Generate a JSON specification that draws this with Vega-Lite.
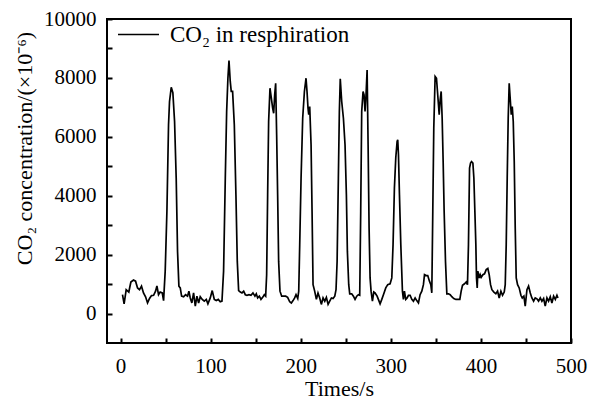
{
  "$schema": "https://vega.github.io/schema/vega-lite/v6.json",
  "width": 464,
  "height": 324,
  "autosize": {"type": "none"},
  "padding": {"left": 107, "top": 19, "right": 22, "bottom": 64},
  "background": "white",
  "config": {
    "font": "Liberation Serif, Times New Roman, serif",
    "view": {"stroke": "black", "strokeWidth": 2},
    "text": {"font": "Liberation Serif, Times New Roman, serif"},
    "axis": {"grid": false, "domain": false, "labelColor": "black", "titleColor": "black", "tickColor": "black", "tickWidth": 2, "labelFont": "Liberation Serif, Times New Roman, serif", "titleFont": "Liberation Serif, Times New Roman, serif", "titleFontWeight": "normal"},
    "legend": {"labelFont": "Liberation Serif, Times New Roman, serif"}
  },
  "data": {"values": [
    {"t":2.2,"v":640},{"t":4,"v":330},{"t":6.3,"v":810},{"t":9.2,"v":730},{"t":11.5,"v":1070},{"t":14.4,"v":1140},{"t":16.7,"v":1100},{"t":18.9,"v":870},{"t":21.1,"v":810},{"t":23.3,"v":930},{"t":25.5,"v":700},{"t":27.8,"v":570},{"t":30,"v":360},{"t":32.2,"v":510},{"t":34.4,"v":610},{"t":36.7,"v":620},{"t":38.9,"v":760},{"t":40.4,"v":940},{"t":42.2,"v":640},{"t":44,"v":730},{"t":46.3,"v":700},{"t":47.8,"v":440},{"t":49.6,"v":1440},{"t":51.5,"v":3470},{"t":53.3,"v":6410},{"t":54.4,"v":7200},{"t":56.3,"v":7680},{"t":58.1,"v":7500},{"t":60,"v":6520},{"t":61.8,"v":4600},{"t":63.3,"v":2110},{"t":64.8,"v":930},{"t":66.3,"v":870},{"t":67.8,"v":590},{"t":70,"v":570},{"t":72.2,"v":640},{"t":74.4,"v":590},{"t":75.9,"v":760},{"t":77.4,"v":530},{"t":79.2,"v":360},{"t":81.1,"v":700},{"t":83,"v":250},{"t":84.8,"v":590},{"t":86.7,"v":360},{"t":88.5,"v":570},{"t":90.7,"v":480},{"t":93,"v":420},{"t":95.2,"v":480},{"t":97,"v":330},{"t":99.6,"v":530},{"t":101.8,"v":780},{"t":104.1,"v":480},{"t":106.3,"v":440},{"t":108.5,"v":480},{"t":110.7,"v":400},{"t":112.6,"v":420},{"t":114.4,"v":1440},{"t":116.3,"v":4600},{"t":117.8,"v":6860},{"t":119.2,"v":7990},{"t":120.4,"v":8590},{"t":121.8,"v":7880},{"t":122.9,"v":7540},{"t":124.4,"v":7540},{"t":126.3,"v":6410},{"t":128.1,"v":4030},{"t":129.6,"v":1770},{"t":131.1,"v":780},{"t":133,"v":730},{"t":134.8,"v":700},{"t":136.7,"v":760},{"t":138.5,"v":640},{"t":140.4,"v":620},{"t":142.6,"v":640},{"t":144.8,"v":620},{"t":147,"v":700},{"t":149.2,"v":590},{"t":150.7,"v":670},{"t":152.2,"v":530},{"t":154.1,"v":590},{"t":155.9,"v":480},{"t":157.8,"v":550},{"t":159.6,"v":640},{"t":161.1,"v":590},{"t":162.2,"v":1320},{"t":163.3,"v":4030},{"t":164.4,"v":6520},{"t":165.9,"v":7650},{"t":167.4,"v":7310},{"t":168.9,"v":6970},{"t":170,"v":6800},{"t":171.1,"v":7420},{"t":172.2,"v":7820},{"t":173.3,"v":6070},{"t":174.4,"v":4030},{"t":175.5,"v":1770},{"t":177,"v":760},{"t":178.9,"v":590},{"t":181.1,"v":590},{"t":183.3,"v":590},{"t":185.5,"v":550},{"t":187.8,"v":400},{"t":189.6,"v":360},{"t":191.5,"v":440},{"t":193.3,"v":530},{"t":194.8,"v":640},{"t":196.7,"v":510},{"t":197.8,"v":760},{"t":198.9,"v":2340},{"t":200.4,"v":4600},{"t":202.2,"v":6630},{"t":204.1,"v":7540},{"t":205.9,"v":7990},{"t":207,"v":7540},{"t":208.1,"v":6970},{"t":208.9,"v":6750},{"t":210,"v":7030},{"t":211.5,"v":5730},{"t":212.6,"v":3470},{"t":213.7,"v":980},{"t":215.5,"v":760},{"t":217.4,"v":480},{"t":219.2,"v":700},{"t":221.1,"v":530},{"t":222.9,"v":310},{"t":224.8,"v":530},{"t":226.7,"v":420},{"t":228.5,"v":550},{"t":230.4,"v":310},{"t":232.2,"v":420},{"t":234.1,"v":530},{"t":235.9,"v":510},{"t":237.8,"v":590},{"t":239.2,"v":810},{"t":240.4,"v":1770},{"t":241.8,"v":4600},{"t":242.9,"v":6860},{"t":243.9,"v":7970},
    {"t":245.5,"v":7200},{"t":247.4,"v":6630},{"t":249.2,"v":5730},{"t":250.7,"v":4030},{"t":251.8,"v":2110},{"t":253.3,"v":980},{"t":254.4,"v":670},{"t":256.6,"v":670},{"t":258.5,"v":590},{"t":260.3,"v":480},{"t":262.2,"v":590},{"t":264,"v":640},{"t":265.5,"v":620},{"t":266.6,"v":3470},{"t":267.7,"v":6860},{"t":269.2,"v":7540},{"t":270.3,"v":7420},{"t":271.4,"v":6860},{"t":272.5,"v":7420},{"t":273.7,"v":8270},{"t":274.8,"v":5730},{"t":275.9,"v":2900},{"t":277,"v":1210},{"t":278.1,"v":760},{"t":279.6,"v":420},{"t":281.1,"v":730},{"t":282.5,"v":700},{"t":284.8,"v":590},{"t":286.2,"v":480},{"t":288.1,"v":330},{"t":290,"v":480},{"t":292.2,"v":670},{"t":294.4,"v":870},{"t":296.6,"v":980},{"t":299.2,"v":1010},{"t":301.1,"v":1210},{"t":302.5,"v":2340},{"t":304,"v":4260},{"t":305.5,"v":5280},{"t":307,"v":5840},{"t":307.7,"v":5900},{"t":308.5,"v":5390},{"t":309.6,"v":4030},{"t":311.1,"v":2340},{"t":312.9,"v":760},{"t":314,"v":480},{"t":315.1,"v":760},{"t":316.6,"v":480},{"t":318.1,"v":530},{"t":319.6,"v":620},{"t":321.4,"v":620},{"t":323.3,"v":480},{"t":325.1,"v":420},{"t":327,"v":530},{"t":328.8,"v":440},{"t":330.7,"v":360},{"t":332.5,"v":640},{"t":334.4,"v":760},{"t":336.2,"v":980},{"t":337.4,"v":1320},{"t":339.2,"v":1290},{"t":341,"v":1290},{"t":342.9,"v":1100},{"t":344.4,"v":980},{"t":345.5,"v":700},{"t":346.6,"v":3470},{"t":347.7,"v":6290},{"t":349.2,"v":8050},{"t":350.7,"v":7990},{"t":351.8,"v":7540},{"t":352.9,"v":7090},{"t":353.7,"v":6750},{"t":354.8,"v":7260},{"t":355.9,"v":7540},{"t":357,"v":6630},{"t":358.1,"v":5160},{"t":359.2,"v":3470},{"t":360.7,"v":1770},{"t":362.2,"v":670},{"t":364,"v":670},{"t":365.9,"v":640},{"t":367.7,"v":570},{"t":369.9,"v":510},{"t":372.2,"v":480},{"t":374.4,"v":480},{"t":376.6,"v":480},{"t":378.1,"v":760},{"t":379.6,"v":960},{"t":381.8,"v":1010},{"t":383.7,"v":1070},{"t":385.1,"v":980},{"t":386.2,"v":2340},{"t":387.4,"v":4940},{"t":388.5,"v":5110},{"t":389.6,"v":5160},{"t":391.1,"v":5110},{"t":392.2,"v":4600},{"t":393.3,"v":3470},{"t":394.4,"v":2340},{"t":395.1,"v":1210},{"t":395.9,"v":870},{"t":396.6,"v":1440},{"t":398.1,"v":1210},{"t":399.2,"v":1320},{"t":400.3,"v":1230},{"t":402.2,"v":1320},{"t":404,"v":1350},{"t":405.9,"v":1490},{"t":407.7,"v":1530},{"t":409.2,"v":1320},{"t":410.7,"v":980},{"t":412.2,"v":810},{"t":414.4,"v":730},{"t":416.6,"v":670},{"t":418.5,"v":760},{"t":420.3,"v":530},{"t":422.2,"v":760},{"t":424,"v":620},{"t":425.9,"v":730},{"t":427,"v":980},{"t":428.1,"v":2340},{"t":429.2,"v":4600},{"t":430.3,"v":6630},{"t":431.4,"v":7820},{"t":432.5,"v":7310},{"t":433.7,"v":6750},{"t":434.8,"v":7030},{"t":435.9,"v":6520},{"t":437,"v":5160},{"t":438.1,"v":2900},{"t":439.2,"v":1210},{"t":440.7,"v":980},{"t":442.5,"v":870},{"t":444.4,"v":620},{"t":445.9,"v":530},{"t":447.7,"v":590},{"t":449.2,"v":250},{"t":451.1,"v":810},{"t":452.9,"v":930},{"t":454.8,"v":700},{"t":456.6,"v":530},{"t":458.5,"v":420},{"t":460.3,"v":530},{"t":462.2,"v":500},{"t":464,"v":420},{"t":465.9,"v":530},{"t":467.7,"v":420},{"t":469.6,"v":510},{"t":471.4,"v":250},{"t":473.3,"v":530},{"t":475.1,"v":420},{"t":477,"v":570},{"t":478.8,"v":360},{"t":480.7,"v":590},{"t":482.6,"v":480},{"t":484.4,"v":620},{"t":485.5,"v":530}
  ]},
  "mark": {"type": "line", "strokeWidth": 1.7, "strokeJoin": "miter", "clip": true},
  "encoding": {
    "x": {
      "field": "t", "type": "quantitative",
      "scale": {"domain": [-15, 500], "nice": false, "zero": false},
      "axis": {
        "values": [0, 50, 100, 150, 200, 250, 300, 350, 400, 450, 500],
        "labelExpr": "datum.value % 100 === 0 ? datum.label : ''",
        "tickSize": -5, "labelPadding": 17, "labelFontSize": 21,
        "title": "Times/s", "titleFontSize": 22, "titlePadding": 2,
        "labelFlush": false, "labelOverlap": false
      }
    },
    "y": {
      "field": "v", "type": "quantitative",
      "scale": {"domain": [-1000, 10000], "nice": false, "zero": false},
      "axis": {
        "values": [0, 1000, 2000, 3000, 4000, 5000, 6000, 7000, 8000, 9000, 10000],
        "labelExpr": "datum.value % 2000 === 0 ? datum.label : ''",
        "format": "d",
        "tickSize": -5, "labelPadding": 16, "labelFontSize": 21,
        "labelFlush": false, "labelOverlap": false,
        "title": "CO₂ concentration/(×10⁻⁶)", "titleFontSize": 22,
        "titleAngle": -90, "titleX": -83, "titleY": 129,
        "titleAlign": "center", "titleBaseline": "middle"
      }
    },
    "color": {
      "datum": "CO₂ in resphiration",
      "scale": {"range": ["black"]},
      "legend": {
        "title": null, "orient": "none", "legendX": 10, "legendY": -6,
        "symbolType": "stroke", "symbolSize": 1681, "symbolStrokeWidth": 1.7,
        "symbolStrokeColor": "black",
        "labelFontSize": 23, "labelOffset": 10, "labelColor": "black",
        "padding": 0, "labelLimit": 400
      }
    }
  }
}
